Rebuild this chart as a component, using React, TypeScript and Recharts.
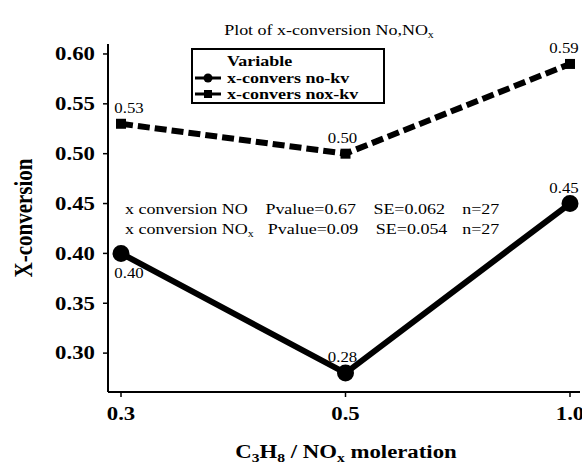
import { LineChart, Line, XAxis, YAxis, Legend, LabelList } from "recharts";

// moleration categories on the x axis
const categories = ["0.3", "0.5", "1.0"];
// x-conversion series
const noKv = [0.4, 0.28, 0.45];
const noxKv = [0.53, 0.5, 0.59];
const yTicks = [0.3, 0.35, 0.4, 0.45, 0.5, 0.55, 0.6];
// where the value label sits relative to each point
const noLabelSide = ["below", "above", "above"];
const noxLabelSide = ["above", "above", "above"];

const data = categories.map((c, i) => ({ x: c, no: noKv[i], nox: noxKv[i] }));

const FONT = "'Liberation Serif', 'Times New Roman', serif";
const SX = 1.2; // the source picture is stretched sideways

function SText({ x, y, size, bold, anchor = "middle", children, rotate }: any) {
  const t = rotate
    ? `translate(${x},${y}) rotate(-90) scale(1,${SX})`
    : `translate(${x},${y}) scale(${SX},1)`;
  return (
    <text
      transform={t}
      textAnchor={anchor}
      dominantBaseline="central"
      fontFamily={FONT}
      fontSize={size}
      fontWeight={bold ? "bold" : "normal"}
      fill="#000"
    >
      {children}
    </text>
  );
}

function YTick({ x, y, payload }: any) {
  return (
    <SText x={x} y={y} size={19} bold anchor="end">
      {Number(payload.value).toFixed(2)}
    </SText>
  );
}

function XTick({ x, y, payload }: any) {
  return (
    <SText x={x} y={y + 15} size={19} bold>
      {payload.value}
    </SText>
  );
}

function makeLabel(sides: string[]) {
  return (props: any) => {
    const { x, y, value, index } = props;
    const cx = Math.min(Math.max(x, 129), 564);
    const cy = sides[index] === "below" ? y + 20 : y - 16;
    return (
      <SText x={cx - (index === 1 ? 3 : 0)} y={cy} size={14}>
        {Number(value).toFixed(2)}
      </SText>
    );
  };
}

function SquareDot({ cx, cy }: any) {
  return <rect x={cx - 5} y={cy - 5} width={10} height={10} fill="#000" />;
}

function LegendBox() {
  return (
    <svg width={194} height={56} style={{ display: "block" }}>
      <rect x={1} y={1} width={192} height={54} fill="#fff" stroke="#000" strokeWidth={2} />
      <SText x={36} y={13} size={15} bold anchor="start">Variable</SText>
      <line x1={4} y1={30} x2={30} y2={30} stroke="#000" strokeWidth={3} />
      <circle cx={17} cy={30} r={4.5} fill="#000" />
      <SText x={36} y={30} size={15} bold anchor="start">x-convers no-kv</SText>
      <line x1={4} y1={46} x2={30} y2={46} stroke="#000" strokeWidth={3} />
      <rect x={13} y={42} width={8} height={8} fill="#000" />
      <SText x={36} y={46} size={15} bold anchor="start">x-convers nox-kv</SText>
    </svg>
  );
}

export default function App() {
  const axisLine = { stroke: "#000", strokeWidth: 2 };
  return (
    <div style={{ position: "absolute", left: 0, top: 0, width: 582, height: 463, background: "#fff" }}>
      <LineChart
        width={582}
        height={463}
        data={data}
        margin={{ top: 44, right: 2, bottom: 41, left: 0 }}
      >
        <XAxis
          dataKey="x"
          type="category"
          padding={{ left: 13, right: 10 }}
          height={30}
          tickSize={5}
          tickLine={{ stroke: "#000", strokeWidth: 1.5 }}
          axisLine={axisLine}
          tick={<XTick />}
          interval={0}
        />
        <XAxis
          xAxisId="top"
          dataKey="x"
          orientation="top"
          height={0}
          tick={false}
          tickLine={false}
          axisLine={axisLine}
        />
        <YAxis
          width={108}
          domain={[0.261, 0.61]}
          ticks={yTicks}
          allowDataOverflow
          tickSize={5}
          tickMargin={8}
          tickLine={{ stroke: "#000", strokeWidth: 1.5 }}
          axisLine={axisLine}
          tick={<YTick />}
        />
        <YAxis
          yAxisId="right"
          orientation="right"
          width={0}
          domain={[0.261, 0.61]}
          tick={false}
          tickLine={false}
          axisLine={axisLine}
        />
        <Legend
          layout="vertical"
          align="center"
          verticalAlign="middle"
          wrapperStyle={{ left: 191, top: 48, width: 194, height: 56 }}
          content={<LegendBox />}
        />
        <Line
          dataKey="nox"
          stroke="#000"
          strokeWidth={6}
          strokeDasharray="12 5"
          dot={<SquareDot />}
          isAnimationActive={false}
        >
          <LabelList dataKey="nox" content={makeLabel(noxLabelSide)} />
        </Line>
        <Line
          dataKey="no"
          stroke="#000"
          strokeWidth={6}
          dot={{ r: 5.5, fill: "#000", stroke: "#000" }}
          isAnimationActive={false}
        >
          <LabelList dataKey="no" content={makeLabel(noLabelSide)} />
        </Line>
        <SText x={329} y={30} size={15}>
          Plot of x-conversion No,NO<tspan fontSize={10} dy={4}>x</tspan>
        </SText>
        <SText x={23} y={218} size={21} bold rotate>
          X-conversion
        </SText>
        <SText x={346} y={452} size={19} bold>
          C<tspan fontSize={13} dy={5}>3</tspan>
          <tspan dy={-5}>H</tspan>
          <tspan fontSize={13} dy={5}>8</tspan>
          <tspan dy={-5}> / NO</tspan>
          <tspan fontSize={13} dy={5}>x</tspan>
          <tspan dy={-5}> moleration</tspan>
        </SText>
        <SText x={125} y={209} size={15} anchor="start">
          x conversion NO<tspan x={117}>Pvalue=0.67</tspan>
          <tspan x={207}>SE=0.062</tspan>
          <tspan x={281}>n=27</tspan>
        </SText>
        <SText x={125} y={229} size={15} anchor="start">
          x conversion NO<tspan fontSize={10} dy={4}>x</tspan>
          <tspan x={119} dy={-4}>Pvalue=0.09</tspan>
          <tspan x={209}>SE=0.054</tspan>
          <tspan x={281}>n=27</tspan>
        </SText>
      </LineChart>
    </div>
  );
}
